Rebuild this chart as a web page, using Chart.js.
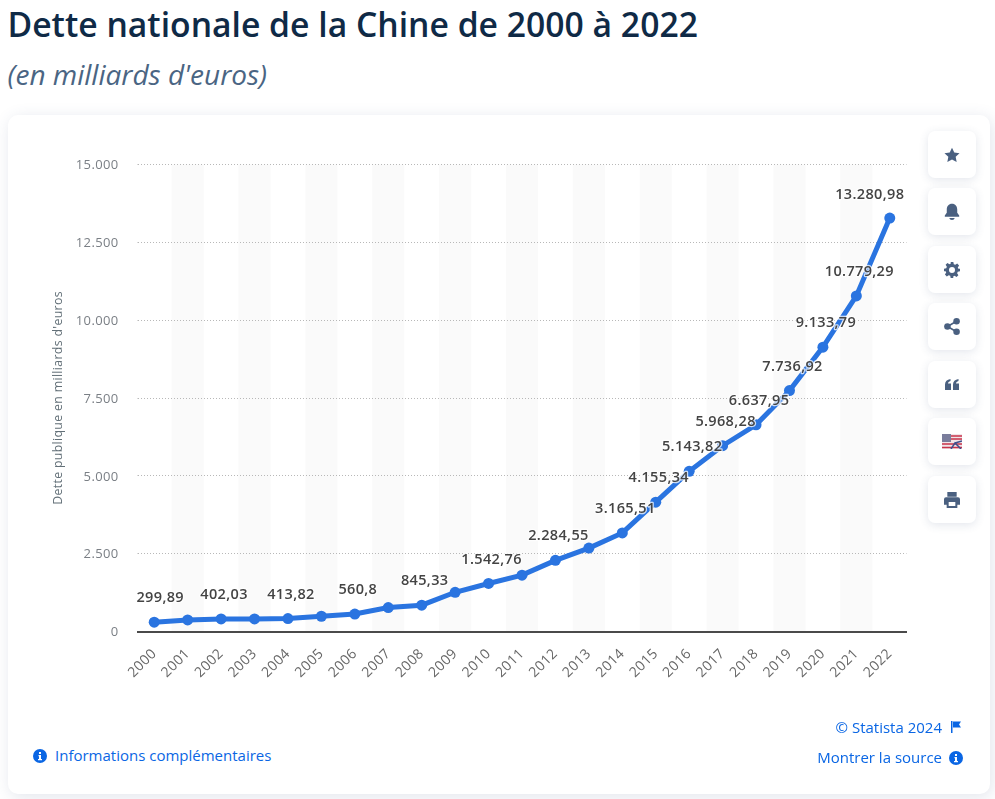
<!DOCTYPE html>
<html lang="fr">

<head>
    <meta charset="UTF-8">
    <title>Dette nationale de la Chine</title>
    <script src="https://cdnjs.cloudflare.com/ajax/libs/Chart.js/4.4.1/chart.umd.min.js"></script>
    <style>
        html, body {
            margin: 0;
            height: 799px;
            overflow: hidden;
            background: #fff;
            font-family: "Open Sans", sans-serif;
        }

        h1 {
            position: absolute;
            left: 7.5px;
            top: 2px;
            margin: 0;
            font-size: 33.7px;
            line-height: 44px;
            font-weight: 600;
            color: #0f2a46;
            white-space: nowrap;
        }

        h2 {
            position: absolute;
            left: 7.5px;
            top: 57px;
            margin: 0;
            font-size: 28px;
            line-height: 34px;
            font-weight: 400;
            font-style: italic;
            color: #4a6583;
            white-space: nowrap;
        }

        .card {
            position: absolute;
            left: 8px;
            top: 115px;
            width: 982px;
            height: 679px;
            background: #fff;
            border-radius: 10px;
            box-shadow: 2px 3px 16px rgba(60, 80, 130, 0.15);
        }

        .chart-wrap {
            position: absolute;
            left: 8px;
            top: 115px;
            width: 910px;
            height: 620px;
        }

        .btn {
            position: absolute;
            left: 928px;
            width: 48px;
            height: 47px;
            background: #fff;
            border-radius: 7px;
            box-shadow: 0 2px 10px rgba(60, 80, 120, 0.14);
            display: flex;
            align-items: center;
            justify-content: center;
        }

        .link {
            position: absolute;
            font-size: 15px;
            line-height: 20px;
            color: #0a66e4;
            white-space: nowrap;
        }

        .ico {
            position: absolute;
        }
    </style>
</head>

<body>
    <h1>Dette nationale de la Chine de 2000 à 2022</h1>
    <h2>(en milliards d'euros)</h2>
    <div class="card"></div>
    <div class="chart-wrap"><canvas id="chart"></canvas></div>

    <div class="btn" style="top:131px"><svg width="16" height="16" viewBox="0 0 24 24"><path fill="#4a6080" d="M12 1l3.400 7.300 7.900 1-5.800 5.400 1.500 7.900-7-3.900-7 3.900 1.500-7.900L.7 9.300l7.900-1z"/></svg></div>
    <div class="btn" style="top:188px"><svg width="16" height="17" viewBox="0 0 24 26"><path fill="#4a6080" d="M12 1c-5 0-8 4-8 9v5l-3 4v2h22v-2l-3-4v-5c0-5-3-9-8-9zM8 23h8c0 2-2 3-4 3s-4-1-4-3z"/></svg></div>
    <div class="btn" style="top:246px"><svg width="16" height="16" viewBox="0 0 24 24"><path fill="#4a6080" fill-rule="evenodd" d="M10 0h4l.7 3.400 2.200.9 2.900-1.900 2.800 2.800-1.900 2.900.9 2.200L24 10v4l-3.400.7-.9 2.200 1.900 2.900-2.800 2.800-2.900-1.900-2.200.9L14 24h-4l-.7-3.400-2.200-.9-2.900 1.900-2.800-2.800 1.900-2.900-.9-2.200L0 14v-4l3.400-.7.9-2.200-1.900-2.900 2.800-2.800 2.900 1.900 2.200-.9zM12 7.500a4.500 4.500 0 1 0 0 9 4.500 4.500 0 0 0 0-9z"/></svg></div>
    <div class="btn" style="top:303px"><svg width="16" height="17" viewBox="0 0 24 26"><g fill="#4a6080"><circle cx="19" cy="5" r="5"/><circle cx="19" cy="21" r="5"/><circle cx="5" cy="13" r="5"/></g><path stroke="#4a6080" stroke-width="2.500" d="M19 5L5 13l14 8" fill="none"/></svg></div>
    <div class="btn" style="top:361px"><svg width="14" height="11" viewBox="0 0 28 22"><path fill="#4a6080" d="M0 22V11C0 5 4 1 11 0v4C8 5 6 7 6 9h6v13zM16 22V11c0-6 4-10 11-11v4c-3 1-5 3-5 5h6v13z"/></svg></div>
    <div class="btn" style="top:418px"><svg width="20" height="15" viewBox="0 0 20 15">
        <rect width="20" height="15" fill="#f1e4e8"/>
        <path stroke="#c8334a" stroke-width="1.500" d="M9 2h11M9 5h11M0 10h20M0 13.500h20"/>
        <path stroke="#3f4f8c" stroke-width="1.500" fill="none" d="M9 15l4-6 6 6M20 7l-7 2"/>
        <rect width="9" height="8" fill="#7a7d9c"/>
    </svg></div>
    <div class="btn" style="top:476px"><svg width="16" height="16" viewBox="0 0 24 24"><path fill="#4a6080" fill-rule="evenodd" d="M5 0h14v7H5zM3 8h18a3 3 0 0 1 3 3v8h-4v5H4v-5H0v-8a3 3 0 0 1 3-3zM7 15v6h10v-6z"/></svg></div>

    <svg class="ico" style="left:33px;top:749px" width="14" height="14" viewBox="0 0 14 14"><circle cx="7" cy="7" r="7" fill="#0a66e4"/><path fill="#fff" d="M6 3h2v2H6zM5.500 6H8v4h1v1.200H5V10h1V7.200h-.5z"/></svg>
    <div class="link" style="left:55px;top:745px">Informations complémentaires</div>
    <div class="link" style="right:53px;top:717px">© Statista 2024</div>
    <svg class="ico" style="left:951px;top:721px" width="10" height="12" viewBox="0 0 10 12"><path fill="#0a66e4" d="M0 0h1.500v12H0zM2 .5h8L8 3.500l2 3H2z"/></svg>
    <div class="link" style="right:53px;top:747px">Montrer la source</div>
    <svg class="ico" style="left:949px;top:751px" width="14" height="14" viewBox="0 0 14 14"><circle cx="7" cy="7" r="7" fill="#0a66e4"/><path fill="#fff" d="M6 3h2v2H6zM5.500 6H8v4h1v1.200H5V10h1V7.200h-.5z"/></svg>

    <script>
        const years = ['2000', '2001', '2002', '2003', '2004', '2005', '2006', '2007', '2008', '2009', '2010', '2011',
            '2012', '2013', '2014', '2015', '2016', '2017', '2018', '2019', '2020', '2021', '2022'];
        const debt = [299.89, 370, 402.03, 405, 413.82, 490, 560.8, 770, 845.33, 1260, 1542.76, 1810,
            2284.55, 2680, 3165.51, 4155.34, 5143.82, 5968.28, 6637.95, 7736.92, 9133.79, 10779.29, 13280.98];
        // only these are printed in the picture, the others are hidden by the original chart
        const pointLabels = ['299,89', '', '402,03', '', '413,82', '', '560,8', '', '845,33', '', '1.542,76', '',
            '2.284,55', '', '3.165,51', '4.155,34', '5.143,82', '5.968,28', '6.637,95', '7.736,92', '9.133,79', '10.779,29', '13.280,98'];
        const yTicks = ['0', '2.500', '5.000', '7.500', '10.000', '12.500', '15.000'];

        // grey stripes behind every second year, drawn before the grid
        const bands = {
            id: 'bands',
            beforeDraw(chart) {
                const { ctx, scales: { x, y } } = chart;
                ctx.letterSpacing = '0.35px';
                const step = x.getPixelForValue(1) - x.getPixelForValue(0);
                const top = y.getPixelForValue(15000);
                const bottom = y.getPixelForValue(0);
                ctx.save();
                ctx.fillStyle = '#fafafa';
                years.forEach((yr, i) => {
                    if (i % 2 === 1) {
                        ctx.fillRect(x.getPixelForValue(i) - step * 0.48, top, step * 0.96, bottom - top);
                    }
                });
                ctx.restore();
            }
        };

        const valueLabels = {
            id: 'valueLabels',
            afterDatasetsDraw(chart) {
                const { ctx, scales: { x, y } } = chart;
                ctx.save();
                ctx.font = '600 14.5px "Open Sans"';
                ctx.textAlign = 'center';
                ctx.textBaseline = 'middle';
                ctx.lineJoin = 'round';
                pointLabels.forEach((txt, i) => {
                    if (!txt) return;
                    let dx = 3;
                    let dy = -24;
                    if (i === 0) dx = 6;
                    if (i === years.length - 1) { dx = -20; dy = -23.5; }
                    const px = x.getPixelForValue(i) + dx;
                    const py = y.getPixelForValue(debt[i]) + dy;
                    ctx.strokeStyle = 'rgba(255,255,255,0.75)';
                    ctx.lineWidth = 2.5;
                    ctx.strokeText(txt, px, py);
                    ctx.fillStyle = '#444';
                    ctx.fillText(txt, px, py);
                });
                ctx.restore();
            }
        };

        new Chart(document.getElementById('chart'), {
            type: 'line',
            data: {
                labels: years,
                datasets: [{
                    data: debt,
                    borderColor: '#2a74e0',
                    backgroundColor: '#2a74e0',
                    borderWidth: 5,
                    pointRadius: 5.5,
                    pointBorderWidth: 0,
                    pointHoverRadius: 5.5,
                    tension: 0
                }]
            },
            plugins: [bands, valueLabels],
            options: {
                responsive: true,
                maintainAspectRatio: false,
                animation: false,
                layout: { padding: { top: 49.5, right: 11.5, left: 43, bottom: 0 } },
                plugins: { legend: { display: false }, tooltip: { enabled: false } },
                scales: {
                    x: {
                        offset: true,
                        grid: { display: false },
                        border: { color: '#4a4a4a', width: 2 },
                        ticks: {
                            color: '#666',
                            font: { family: 'Open Sans', size: 14 },
                            maxRotation: 45,
                            minRotation: 45,
                            autoSkip: false,
                            padding: 6
                        },
                        afterFit(scale) {
                            scale.height = 103.5;
                        }
                    },
                    y: {
                        min: 0,
                        max: 15000,
                        border: { display: false, dash: [1, 2] },
                        grid: {
                            color: '#b8b8b8',
                            lineWidth: 1,
                            tickLength: 0
                        },
                        ticks: {
                            stepSize: 2500,
                            color: '#7a7f85',
                            padding: 19,
                            labelOffset: 1,
                            font: { family: 'Open Sans', size: 13 },
                            callback: (v) => yTicks[v / 2500]
                        },
                        title: {
                            display: true,
                            text: "Dette publique en milliards d'euros",
                            color: '#637078',
                            font: { family: 'Open Sans', size: 12.3 },
                            padding: 0
                        },
                        afterFit(scale) {
                            scale.width = 86.5;
                        }
                    }
                }
            }
        });
    </script>
</body>

</html>
